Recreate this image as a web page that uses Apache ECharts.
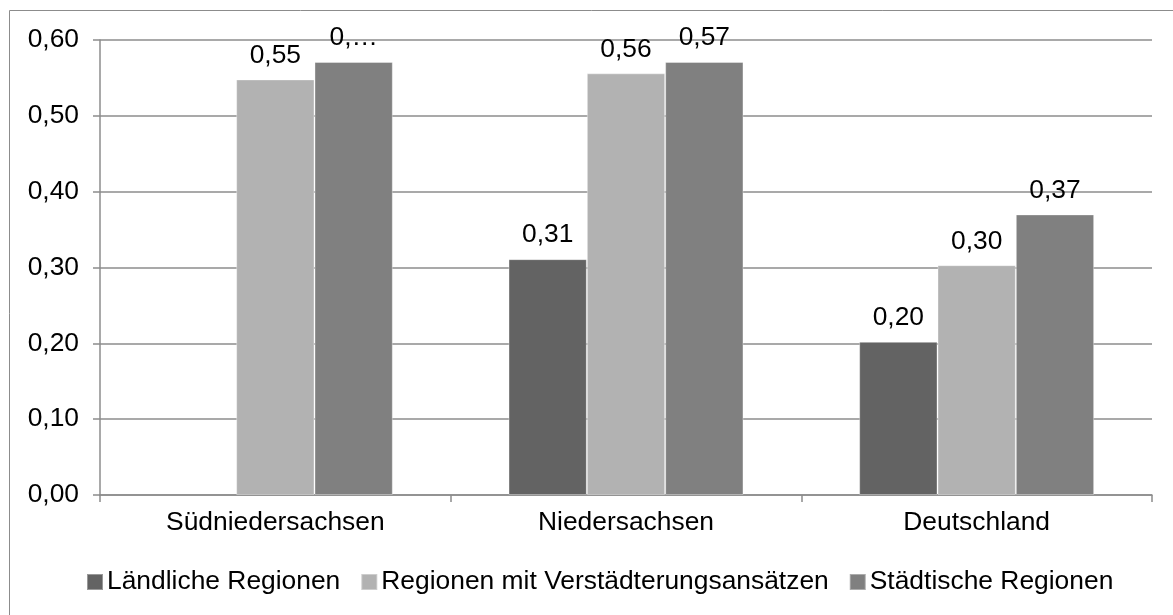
<!DOCTYPE html>
<html>
<head>
<meta charset="utf-8">
<script src="https://cdn.jsdelivr.net/npm/echarts@6/dist/echarts.min.js"></script>
<style>
  html, body { margin: 0; padding: 0; background: #fff; }
  #chart { width: 1173px; height: 615px; }
</style>
</head>
<body>
<div id="chart"></div>
<script>
// Daten
const categories = ["Südniedersachsen", "Niedersachsen", "Deutschland"];
const seriesNames = ["Ländliche Regionen", "Regionen mit Verstädterungsansätzen", "Städtische Regionen"];
const laendlich = [null, 0.311, 0.202];
const verstaedterung = [0.548, 0.556, 0.303];
const staedtisch = [0.571, 0.571, 0.370];
// abgeschnittene Beschriftung im Original
const staedtischLabels = ["0,…", null, null];
const yTicks = [0, 0.1, 0.2, 0.3, 0.4, 0.5, 0.6];

const colors = ["#636363", "#b2b2b2", "#808080"];
const font = "Liberation Sans, Arial, sans-serif";
const fs = 26.4;

const chart = echarts.init(document.getElementById("chart"));

function fmt(v) {
  return v.toFixed(2).replace(".", ",");
}

function makeSeries(name, values, color, overrides) {
  return {
    name: name,
    type: "bar",
    barGap: "0%",
    barCategoryGap: "33%",
    itemStyle: { color: color, borderColor: "rgba(255,255,255,0.35)", borderWidth: 1 },
    label: {
      show: true,
      position: "top",
      distance: 11,
      fontFamily: font,
      fontSize: fs,
      color: "#000",
      formatter: (p) => (overrides && overrides[p.dataIndex]) || fmt(p.value),
    },
    data: values,
  };
}

const option = {
  animation: false,
  graphic: [
    {
      type: "rect",
      shape: { x: 9.5, y: 10.5, width: 1200, height: 700 },
      style: { fill: null, stroke: "#8c8c8c", lineWidth: 1 },
      silent: true,
    },
  ],
  grid: { left: 100, right: 21, top: 40, bottom: 120 },
  legend: {
    top: 564,
    left: 81,
    itemWidth: 16,
    itemHeight: 16,
    itemGap: 20,
    icon: "rect",
    textStyle: { fontFamily: font, fontSize: fs, color: "#000", padding: [0, 0, 0, -1] },
    data: seriesNames,
  },
  xAxis: {
    type: "category",
    data: categories,
    axisLine: { lineStyle: { color: "#8c8c8c", width: 1.5 } },
    axisTick: { show: true, length: 7, alignWithLabel: false, lineStyle: { color: "#8c8c8c", width: 1.5 } },
    axisLabel: { fontFamily: font, fontSize: fs, color: "#000", margin: 15 },
  },
  yAxis: {
    type: "value",
    min: yTicks[0],
    max: yTicks[yTicks.length - 1],
    interval: 0.1,
    axisLine: { show: true, lineStyle: { color: "#8c8c8c", width: 1.5 } },
    axisTick: { show: true, length: 7, lineStyle: { color: "#8c8c8c", width: 1.5 } },
    axisLabel: { fontFamily: font, fontSize: fs, color: "#000", margin: 21, formatter: (v) => fmt(v) },
    splitLine: { lineStyle: { color: "#8c8c8c", width: 1.5 } },
  },
  series: [
    makeSeries(seriesNames[0], laendlich, colors[0]),
    makeSeries(seriesNames[1], verstaedterung, colors[1]),
    makeSeries(seriesNames[2], staedtisch, colors[2], staedtischLabels),
  ],
};

chart.setOption(option);
</script>
</body>
</html>
